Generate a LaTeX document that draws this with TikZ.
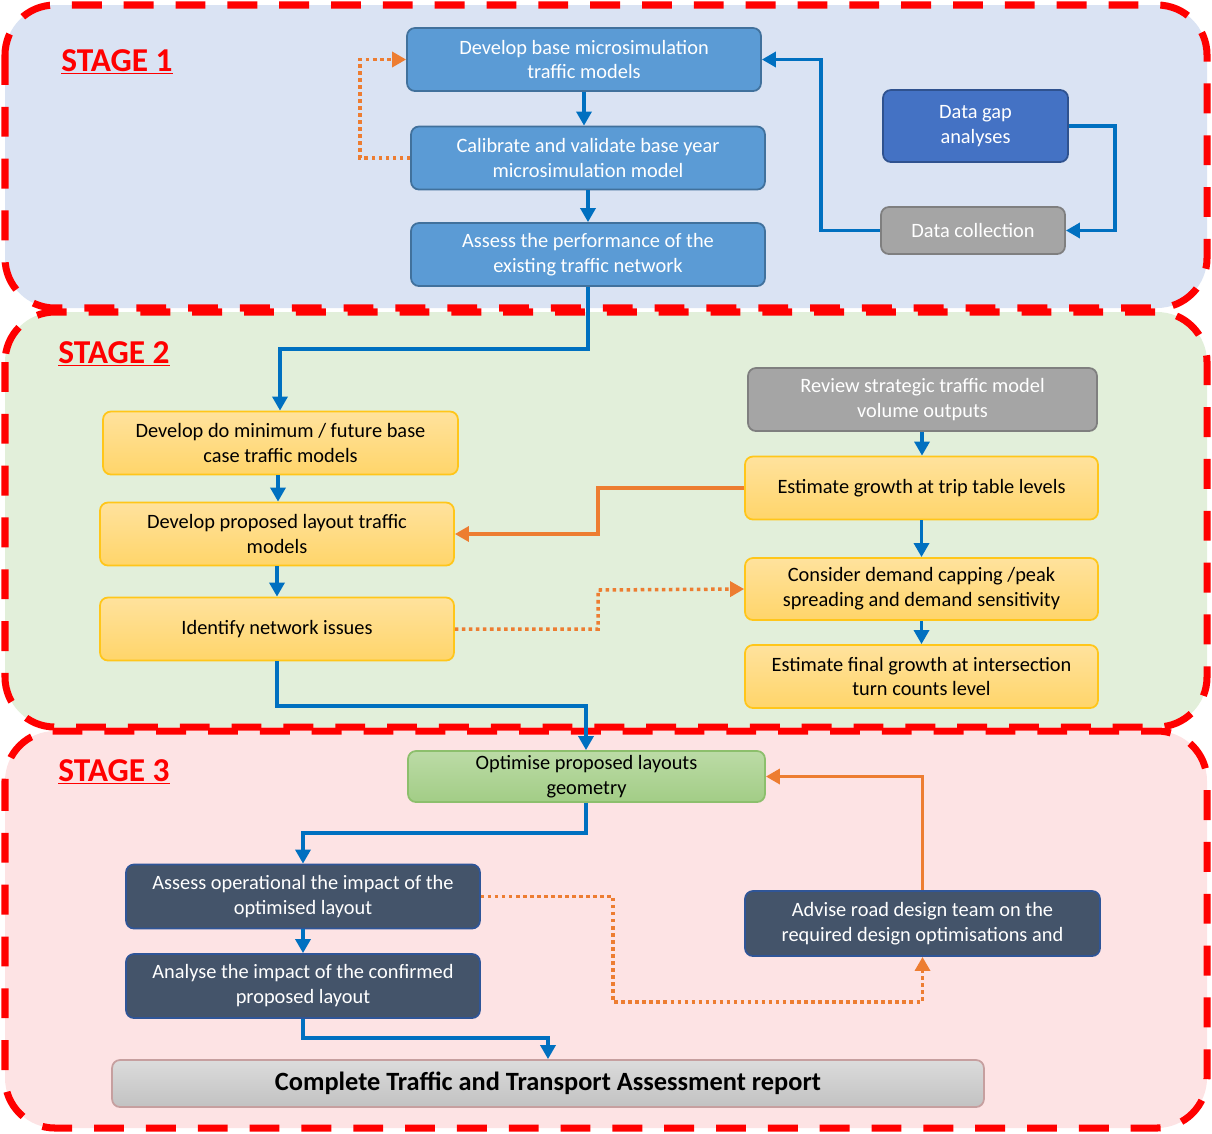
\documentclass[tikz,border=0pt]{standalone}
\usepackage{fontspec}
\setmainfont{Carlito}
\usepackage{tikz}
\usetikzlibrary{arrows.meta,positioning}

\definecolor{stageblue}{HTML}{DAE3F3}
\definecolor{stagegreen}{HTML}{E2EFDA}
\definecolor{stagepink}{HTML}{FDE3E4}
\definecolor{boxblue}{HTML}{5B9BD5}
\definecolor{boxblueline}{HTML}{41719C}
\definecolor{boxdarkblue}{HTML}{4472C4}
\definecolor{boxdarkblueline}{HTML}{2F528F}
\definecolor{boxgray}{HTML}{A5A5A5}
\definecolor{boxgrayline}{HTML}{7F7F7F}
\definecolor{boxslate}{HTML}{44546A}
\definecolor{boxslateline}{HTML}{2F5597}
\definecolor{yellowtop}{HTML}{FFE29D}
\definecolor{yellowbot}{HTML}{FFD56A}
\definecolor{yellowline}{HTML}{FFC61A}
\definecolor{greentop}{HTML}{BCDBA6}
\definecolor{greenbot}{HTML}{A2CD86}
\definecolor{greenline}{HTML}{8CBF6C}
\definecolor{arrowblue}{HTML}{0070C0}
\definecolor{arroworange}{HTML}{ED7D31}

\begin{document}
\begin{tikzpicture}[x=0.02cm, y=-0.02cm,
        stage/.style = {
            draw=red,
            line width=4pt,
            dash pattern=on 17pt off 12.5pt,
            rounded corners=1cm
        },
        stagelabel/.style = {
            text=red,
            font=\fontsize{19}{21}\selectfont\bfseries,
            inner sep=0pt
        },
        box/.style = {
            draw,
            line width=1pt,
            rounded corners=4.5pt,
            align=center,
            inner sep=2pt,
            font=\fontsize{11.6}{14.2}\selectfont
        },
        bluebox/.style = {box, fill=boxblue, draw=boxblueline, text=white,
            minimum width=7.08cm, minimum height=1.26cm},
        graybox/.style = {box, fill=boxgray, draw=boxgrayline, text=white},
        yellowbox/.style = {box, top color=yellowtop, bottom color=yellowbot,
            draw=yellowline, text=black, minimum height=1.26cm},
        slatebox/.style = {box, fill=boxslate, draw=boxslateline, text=white,
            minimum height=1.28cm},
        flow/.style = {draw=arrowblue, line width=2.2pt,
            -{Triangle[length=8pt, width=8.5pt]}},
        feed/.style = {draw=arroworange, line width=2.2pt,
            -{Triangle[length=8pt, width=8.5pt]}},
        check/.style = {feed, line width=2pt, dash pattern=on 2pt off 2pt}
    ]
    \useasboundingbox (0,0) rectangle (1212,1133);

    % stages
    \fill[stageblue, rounded corners=1cm] (5,5) rectangle (1207,308);
    \draw[stage] (5,5) rectangle (1207,308);
    \fill[stagegreen, rounded corners=1cm] (5,312) rectangle (1207,727);
    \draw[stage] (5,312) rectangle (1207,727);
    \fill[stagepink, rounded corners=1cm] (5,731) rectangle (1207,1128);
    \draw[stage] (5,731) rectangle (1207,1128);

    \node[stagelabel] (s1) at (117,62) {\underline{STAGE 1}};
    \node[stagelabel] (s2) at (114,354) {\underline{STAGE 2}};
    \node[stagelabel] (s3) at (114,772) {\underline{STAGE 3}};

    % stage 1
    \node[bluebox] (dbase) at (584,59.5) {Develop base microsimulation\\traffic models};
    \node[bluebox] (calib) at (588,158) {Calibrate and validate base year\\microsimulation model};
    \node[bluebox] (perf) at (588,254.5) {Assess the performance of the\\existing traffic network};
    \node[box, fill=boxdarkblue, draw=boxdarkblueline, text=white,
        minimum width=3.7cm, minimum height=1.44cm] (gap) at (975.5,126) {Data gap\\analyses};
    \node[graybox, minimum width=3.68cm, minimum height=0.94cm] (collect) at (973,230.5) {Data collection};

    \draw[flow] (dbase) -- (dbase.south |- calib.north);
    \draw[flow] (calib) -- (calib.south |- perf.north);
    \draw[check] (calib.west) -- (360,158) -- (360,59.5) -- (dbase.west);
    \draw[flow] (collect.west) -- (821,230.5) -- (821,59.5) -- (dbase.east);
    \draw[flow] (gap.east) -- (1115,126) -- (1115,230.5) -- (collect.east);

    % stage 2
    \node[yellowbox, minimum width=7.1cm] (dmin) at (280.5,443) {Develop do minimum / future base\\case traffic models};
    \node[yellowbox, minimum width=7.08cm] (dprop) at (277,534) {Develop proposed layout traffic\\models};
    \node[yellowbox, minimum width=7.08cm] (issues) at (277,629) {Identify network issues};
    \node[graybox, minimum width=6.98cm, minimum height=1.26cm] (review) at (922.5,399.5) {Review strategic traffic model\\volume outputs};
    \node[yellowbox, minimum width=7.06cm] (trip) at (921.5,488) {Estimate growth at trip table levels};
    \node[yellowbox, minimum width=7.06cm, minimum height=1.24cm] (demand) at (921.5,589) {Consider demand capping /peak\\spreading and demand sensitivity};
    \node[yellowbox, minimum width=7.06cm] (final) at (921.5,676.5) {Estimate final growth at intersection\\turn counts level};

    \draw[flow] (perf.south) -- (588,349) -- (280,349) -- (dmin.north -| 280,0);
    \draw[flow] (dmin.south -| 278,0) -- (dprop.north -| 278,0);
    \draw[flow] (dprop) -- (dprop.south |- issues.north);
    \draw[flow] (review.south -| 922,0) -- (trip.north -| 922,0);
    \draw[flow] (trip) -- (trip.south |- demand.north);
    \draw[flow] (demand) -- (demand.south |- final.north);
    \draw[feed] (trip.west) -- (598,488) -- (598,534) -- (dprop.east);
    \draw[check] (issues.east) -- (598,629) -- (598,590) -- (demand.west);

    % stage 3
    \node[box, top color=greentop, bottom color=greenbot, draw=greenline, text=black,
        minimum width=7.14cm, minimum height=1.02cm] (optim) at (586.5,776.5) {Optimise proposed layouts\\geometry};
    \node[slatebox, minimum width=7.08cm] (operat) at (303,896.5) {Assess operational the impact of the\\optimised layout};
    \node[slatebox, minimum width=7.08cm] (confirm) at (303,986) {Analyse the impact of the confirmed\\proposed layout};
    \node[slatebox, minimum width=7.1cm, minimum height=1.3cm] (advise) at (922.5,923.5) {Advise road design team on the\\required design optimisations and};
    \node[box, top color=gray!28, bottom color=gray!48, draw=red!25!gray!60,
        minimum width=17.44cm, minimum height=0.94cm,
        font=\fontsize{15}{17}\selectfont\bfseries] (report) at (548,1083.5) {Complete Traffic and Transport Assessment report};

    \draw[flow] (issues.south) -- (277,706) -- (586,706) -- (optim.north -| 586,0);
    \draw[flow] (optim.south -| 586,0) -- (586,833) -- (303,833) -- (operat.north);
    \draw[flow] (operat) -- (confirm);
    \draw[flow] (confirm.south) -- (303,1038) -- (548,1038) -- (report.north);
    \draw[feed] (advise.north) -- (922.5,776.5) -- (optim.east);
    \draw[check] (operat.east) -- (613,896.5) -- (613,1002) -- (922.5,1002) -- (advise.south);
\end{tikzpicture}
\end{document}
